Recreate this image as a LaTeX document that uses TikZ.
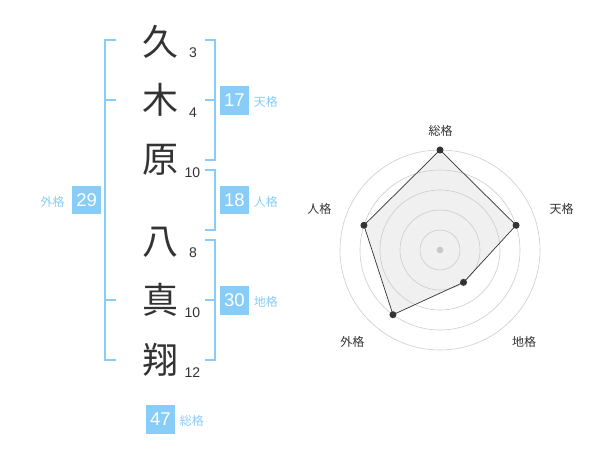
\documentclass[tikz,border=0pt]{standalone}
\usepackage{fontspec}
\setmainfont{Liberation Sans}
\newfontfamily\cjk{Noto Sans CJK JP}
\usetikzlibrary{positioning}
\definecolor{kakublue}{HTML}{88CCF8}
\definecolor{inkgray}{HTML}{333333}
\definecolor{ringgray}{HTML}{CCCCCC}
\definecolor{areagray}{HTML}{F0F0F0}
\definecolor{hubgray}{HTML}{C8C8C8}

\begin{document}
\begin{tikzpicture}[x=1pt, y=-1pt,
  kanji/.style = {font=\cjk\fontsize{36}{36}\selectfont, text=inkgray, inner sep=0pt},
  strokes/.style = {font=\fontsize{14}{14}\selectfont, text=inkgray, inner sep=0pt},
  kakubox/.style = {fill=kakublue, text=white, minimum size=28.5pt, inner sep=0pt,
    font=\fontsize{18.5}{18.5}\selectfont},
  kakuname/.style = {font=\cjk\fontsize{12}{12}\selectfont, text=kakublue, inner sep=0pt},
  bracket/.style = {draw=kakublue, line width=1.8pt},
  axisname/.style = {font=\cjk\fontsize{12}{12}\selectfont, text=inkgray, inner sep=0pt},
  ring/.style = {draw=ringgray, line width=0.6pt},
  dot/.style = {circle, fill=inkgray, inner sep=0pt, minimum size=7pt}
  ]
  \useasboundingbox (0,0) rectangle (600,470);

  % name, one character per row
  \node[kanji] (k1) at (160,42) {久};
  \node[kanji] (k2) at (160,100) {木};
  \node[kanji] (k3) at (160,160) {原};
  \node[kanji] (k4) at (160,242) {八};
  \node[kanji] (k5) at (160,300) {真};
  \node[kanji] (k6) at (160,360) {翔};

  % stroke counts
  \node[strokes] (s1) at (193,52.5) {3};
  \node[strokes] (s2) at (193,113) {4};
  \node[strokes] (s3) at (192.5,172.5) {10};
  \node[strokes] (s4) at (193,252.5) {8};
  \node[strokes] (s5) at (192.5,312.5) {10};
  \node[strokes] (s6) at (192.5,372.5) {12};

  % brackets
  \draw[bracket] (116,40) -- (105,40) -- (105,360) -- (116,360);
  \draw[bracket] (105,100) -- (116,100);
  \draw[bracket] (105,300) -- (116,300);
  \draw[bracket] (205,40) -- (215,40) -- (215,160) -- (205,160);
  \draw[bracket] (215,100) -- (205,100);
  \draw[bracket] (205,170) -- (215,170) -- (215,230) -- (205,230);
  \draw[bracket] (205,240) -- (215,240) -- (215,360) -- (205,360);
  \draw[bracket] (215,300) -- (205,300);

  % totals
  \node[kakubox] (ten) at (234.3,100.3) {17};
  \node[kakuname, base right=5pt of ten] (tenname) {天格};
  \node[kakubox] (jin) at (234.3,200.2) {18};
  \node[kakuname, base right=5pt of jin] (jinname) {人格};
  \node[kakubox] (chi) at (234.3,300.3) {30};
  \node[kakuname, base right=5pt of chi] (chiname) {地格};
  \node[kakubox] (gai) at (86.7,200.2) {29};
  \node[kakuname, base left=7.5pt of gai] (gainame) {外格};
  \node[kakubox] (sou) at (160.3,419.3) {47};
  \node[kakuname, base right=5pt of sou] (souname) {総格};

  % radar chart
  \coordinate (ctr) at (440,250);
  \coordinate (vsou) at ([shift={(-90:100)}]ctr);
  \coordinate (vten) at ([shift={(-18:80)}]ctr);
  \coordinate (vchi) at ([shift={(54:40)}]ctr);
  \coordinate (vgai) at ([shift={(126:80)}]ctr);
  \coordinate (vjin) at ([shift={(198:80)}]ctr);
  \fill[areagray] (vsou) -- (vten) -- (vchi) -- (vgai) -- (vjin) -- cycle;
  \foreach \r in {20,40,...,100}
    \draw[ring] (ctr) circle[radius=\r];
  \fill[hubgray] (ctr) circle[radius=3.3];
  \draw[inkgray, line width=0.7pt] (vsou) -- (vten) -- (vchi) -- (vgai) -- (vjin) -- cycle;
  \foreach \v in {vsou,vten,vchi,vgai,vjin}
    \node[dot] (d\v) at (\v) {};

  \node[axisname] (asou) at (440.7,130.7) {総格};
  \node[axisname] (aten) at (561.7,209) {天格};
  \node[axisname] (achi) at (524,342) {地格};
  \node[axisname] (agai) at (352.3,342) {外格};
  \node[axisname] (ajin) at (319.3,209) {人格};
\end{tikzpicture}
\end{document}
